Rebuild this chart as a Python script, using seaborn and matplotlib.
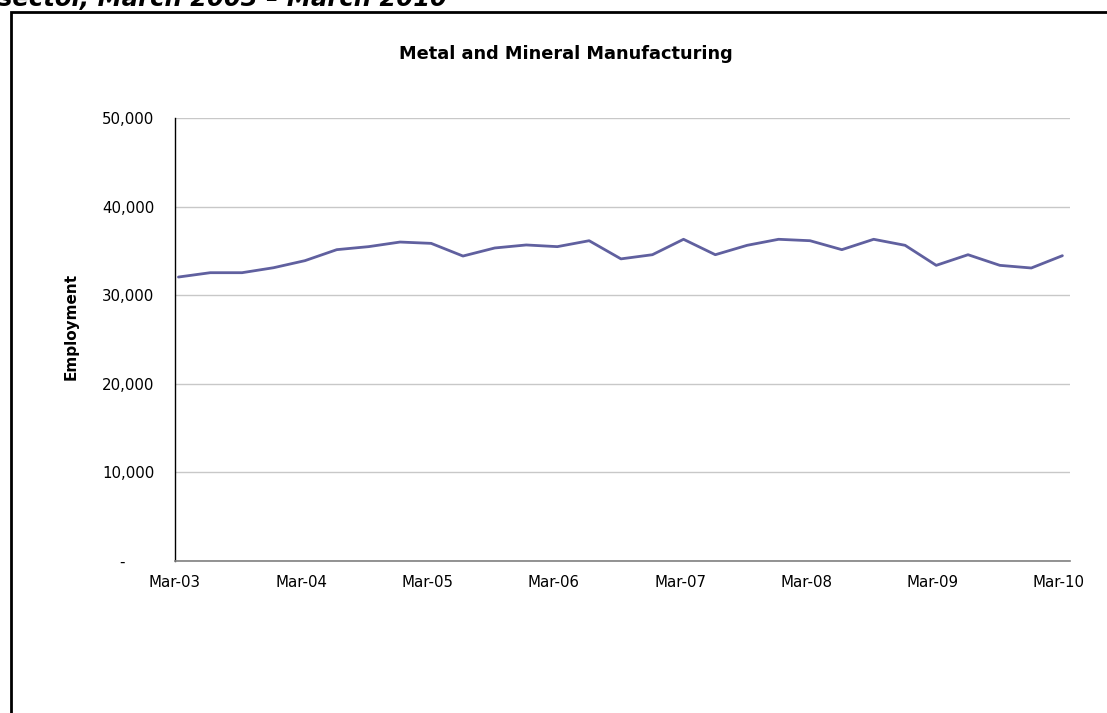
import matplotlib
matplotlib.use("Agg")
import matplotlib.pyplot as plt
import matplotlib.dates as mdates
from matplotlib.patches import Rectangle
import seaborn as sns
import pandas as pd

sns.set_style("white")
plt.rcParams["font.family"] = ["DejaVu Sans"]
plt.rcParams["text.color"] = "black"
plt.rcParams["axes.labelcolor"] = "black"

# quarterly employment, Mar-03 .. Mar-10
employment = [32050, 32540, 32540, 33100, 33900, 35140, 35480, 36000, 35850,
              34420, 35330, 35670, 35480, 36150, 34100, 34570, 36310, 34570,
              35630, 36310, 36150, 35140, 36310, 35630, 33370, 34570, 33370,
              33070, 34460]
quarters = pd.date_range("2003-03-01", "2010-03-01", freq="QS-MAR") + pd.Timedelta(days=10)
year_ticks = pd.date_range("2003-03-01", "2010-03-01", freq="YS-MAR")
y_ticks = [0, 10000, 20000, 30000, 40000, 50000]

df = pd.DataFrame({"quarter": quarters, "employment": employment})

fig = plt.figure(figsize=(11.07, 7.13), dpi=100)
ax = fig.add_axes([175 / 1107, 1 - 561 / 713, 895 / 1107, 443 / 713])

sns.lineplot(x="quarter", y="employment", data=df, ax=ax,
             color="#60609f", linewidth=2.0)

ax.set_ylim(0, 50000)
ax.set_xlim(pd.Timestamp("2003-03-01"), pd.Timestamp("2010-04-02"))
ax.set_yticks(y_ticks)
ax.set_yticklabels([f"{v:,.0f}" if v else "-      " for v in y_ticks])
ax.set_xticks(year_ticks)
ax.xaxis.set_major_formatter(mdates.DateFormatter("%b-%y"))
ax.grid(axis="y", color="#c8c8c8", linewidth=1)
ax.set_axisbelow(True)

for s in ["top", "right"]:
    ax.spines[s].set_visible(False)
ax.spines["left"].set_color("black")
ax.spines["left"].set_linewidth(1)
ax.spines["bottom"].set_color("#808080")
ax.spines["bottom"].set_linewidth(1.2)
ax.tick_params(axis="both", direction="out", length=5, width=1,
               labelsize=10.8, colors="black")
ax.tick_params(axis="y", pad=10)
ax.tick_params(axis="x", pad=5)

ax.set_xlabel("")
ax.set_ylabel("Employment", fontsize=11, fontweight="bold")
ax.yaxis.set_label_coords(-96 / 895, 0.53)

fig.text(566 / 1107, 1 - 54 / 713, "Metal and Mineral Manufacturing",
         ha="center", va="center", fontsize=12.8, fontweight="bold")
fig.text(-0.002, 1 - 6 / 713, "sector, March 2003 \u2013 March 2010",
         ha="left", va="baseline", fontsize=17.5, fontweight="bold",
         fontstyle="italic")

fig.patches.append(Rectangle((11 / 1107, -0.2), 1.2, 1.2 - 12 / 713,
                             transform=fig.transFigure, fill=False,
                             edgecolor="black", linewidth=2))

fig.savefig("out.png", dpi=100)
